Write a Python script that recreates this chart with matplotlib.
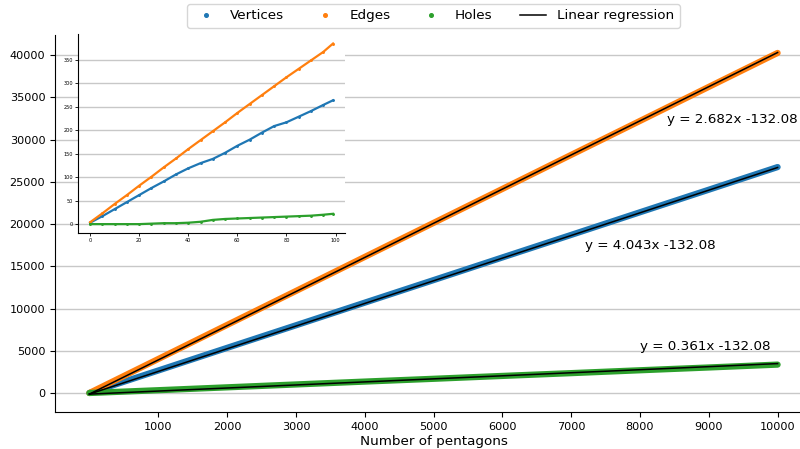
import numpy as np
import matplotlib
matplotlib.use('Agg')
import matplotlib.pyplot as plt
from matplotlib.lines import Line2D

# main chart, values read at every 1000 pentagons
n_main = [0, 1000, 2000, 3000, 4000, 5000, 6000, 7000, 8000, 9000, 10000]
vertices_main = [0, 2660, 5340, 8010, 10690, 13360, 16040, 18710, 21390, 24060, 26740]
edges_main = [0, 4020, 8050, 12070, 16100, 20130, 24150, 28180, 32200, 36230, 40250]
holes_main = [0, 330, 670, 1010, 1350, 1680, 2020, 2350, 2690, 3020, 3360]

# inset, first 100 pentagons (read every 5)
n_small = [0, 5, 10, 15, 20, 25, 30, 35, 40, 45, 50, 55, 60, 65, 70, 75, 80, 85, 90, 95, 99]
vertices_small = [3, 17, 32, 47, 62, 77, 91, 106, 119, 130, 139, 152, 167, 180, 195, 209, 217, 229, 241, 254, 264]
edges_small = [4, 23, 43, 62, 82, 101, 121, 140, 160, 179, 198, 217, 237, 256, 275, 294, 313, 331, 349, 367, 385]
holes_small = [0, 0, 0, 0, 0, 1, 2, 2, 3, 5, 9, 11, 12, 13, 14, 15, 16, 17, 18, 20, 22]

# fitted lines (slope, intercept) and where the equations are written
fit_slopes = [2.682, 4.043, 0.361]
fit_intercept = -132.08
label_pos = [(8393, 32430), (7201, 17515), (8000, 5560)]

names = ['Vertices', 'Edges', 'Holes']
colors = ['#1f77b4', '#ff7f0e', '#2ca02c']

fig = plt.figure(figsize=(8, 4.49), dpi=100)
ax = fig.add_axes([0.06875, 0.0824, 0.94625, 0.8396])

series = [vertices_main, edges_main, holes_main]
for ys, c in zip(series, colors):
    ax.plot(n_main, ys, color=c, lw=4.5, solid_capstyle='round', zorder=2)

x_fit = np.array([n_main[0], n_main[-1]])
for k in fit_slopes:
    ax.plot(x_fit, k * x_fit + fit_intercept, color='black', lw=1.1, zorder=3)

for k, (tx, ty) in zip(fit_slopes, label_pos):
    ax.text(tx, ty, 'y = %.3fx %.2f' % (k, fit_intercept), fontsize=9.7,
            ha='left', va='center', zorder=4)

ax.set_xlim(-500, 10500)
ax.set_ylim(-2250, 42370)
ax.set_xticks(range(1000, 10001, 1000))
ax.set_yticks(range(0, 40001, 5000))
ax.tick_params(labelsize=8.1)
ax.yaxis.grid(True, color='#c8c8c8', lw=1)
ax.set_axisbelow(True)
ax.spines['top'].set_visible(False)
ax.spines['right'].set_visible(False)
ax.set_xlabel('Number of pentagons', fontsize=9.7, labelpad=2)

handles = [Line2D([], [], ls='none', marker='o', markersize=2.6, color=c, label=nm)
           for c, nm in zip(colors, names)]
handles.append(Line2D([], [], color='black', lw=1.1, label='Linear regression'))
ax.legend(handles=handles, loc='upper center', bbox_to_anchor=(0.5, 1.1),
          ncol=4, fontsize=9.7, frameon=True)

# inset
ax_in = fig.add_axes([0.0975, 0.481, 0.334, 0.443])
for ys, c in zip([vertices_small, edges_small, holes_small], colors):
    ax_in.plot(n_small, ys, color=c, lw=1.6, marker='o', markersize=1.1, zorder=2)
ax_in.set_xlim(-4.95, 103.95)
ax_in.set_ylim(-19, 405)
ax_in.set_xticks(range(0, 101, 20))
ax_in.set_yticks(range(0, 351, 50))
ax_in.tick_params(labelsize=3.6, length=2, width=0.6, pad=1.5)
ax_in.yaxis.grid(True, color='#c8c8c8', lw=1)
ax_in.set_axisbelow(True)
ax_in.spines['top'].set_visible(False)
ax_in.spines['right'].set_visible(False)

fig.savefig('out.png', dpi=100)
